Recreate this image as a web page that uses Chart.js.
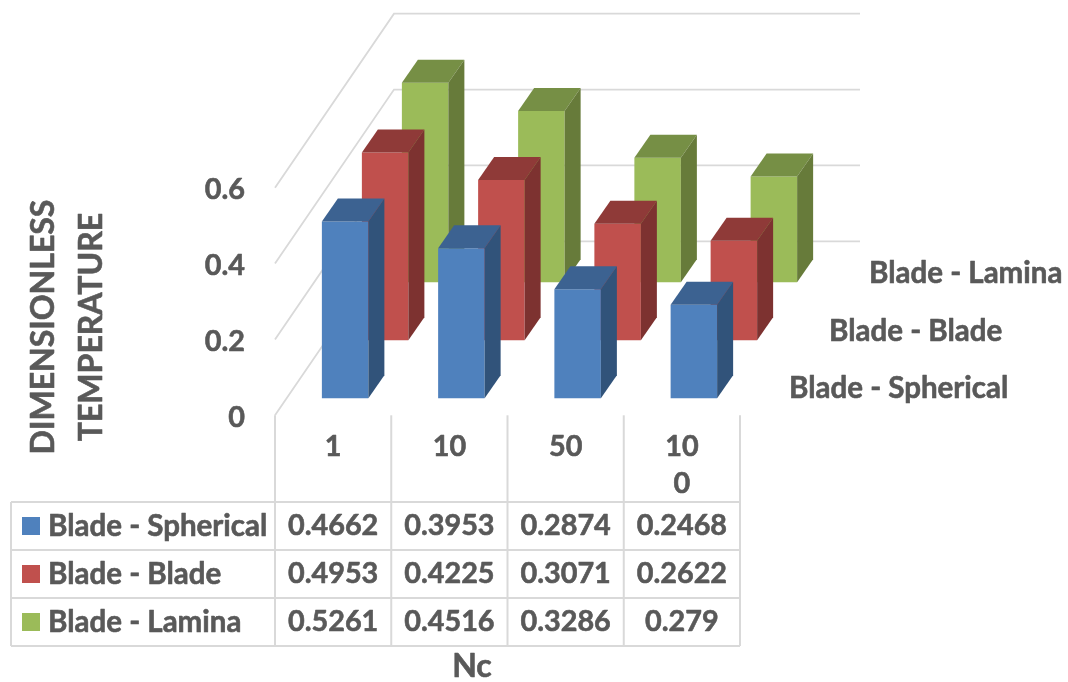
<!DOCTYPE html>
<html>
<head>
<meta charset="utf-8">
<style>
  html, body { margin: 0; padding: 0; background: #fff; }
  canvas { display: block; }
</style>
<script src="https://cdn.jsdelivr.net/npm/chart.js@4"></script>
</head>
<body>
<canvas id="chart" width="1068" height="682"></canvas>
<script>
// Dimensionless temperature by Nc for three blade pairings
const categories = ['1', '10', '50', '100'];
const seriesNames = ['Blade - Spherical', 'Blade - Blade', 'Blade - Lamina'];
const bladeSpherical = [0.4662, 0.3953, 0.2874, 0.2468];
const bladeBlade = [0.4953, 0.4225, 0.3071, 0.2622];
const bladeLamina = [0.5261, 0.4516, 0.3286, 0.279];
const yTicks = [0, 0.2, 0.4, 0.6];

const frontColors = ['#4F81BD', '#C0504D', '#9BBB59'];
const topColors = ['#3C6291', '#8F3A38', '#768F45'];
const sideColors = ['#31537A', '#7D3230', '#677B3A'];

const TEXT = '#595959';
const LINE = '#D9D9D9';
const FONT = 'Lato, Carlito, sans-serif';
const NAME_SIZE = 29.5;
const VALUE_SIZE = 28.8;
const TITLE_SIZE = 32;

// Perspective offsets: each series row sits further back on the floor
const rowShift = [{ dx: 12, dy: -17 }, { dx: 52, dy: -75 }, { dx: 92, dy: -133 }];
const barDepth = { dx: 16, dy: -23 };
const wallDepth = { dx: 119, dy: -174 };
const wallRight = 860;

const tableLeft = 11;
const tableRows = [502, 550, 598, 646];
const depthLabels = [{ x: 789, y: 388 }, { x: 829, y: 331 }, { x: 869, y: 273 }];

function poly(ctx, pts, color) {
  ctx.fillStyle = color;
  ctx.beginPath();
  pts.forEach((p, i) => (i ? ctx.lineTo(p[0], p[1]) : ctx.moveTo(p[0], p[1])));
  ctx.closePath();
  ctx.fill();
}

// Heavy label text: a thin outline thickens the bold face slightly
function text(ctx, str, x, y, align, size) {
  ctx.font = `bold ${size}px ${FONT}`;
  ctx.fillStyle = TEXT;
  ctx.strokeStyle = TEXT;
  ctx.lineWidth = 0.6;
  ctx.lineJoin = 'round';
  ctx.textAlign = align || 'left';
  ctx.textBaseline = 'middle';
  ctx.fillText(str, x, y);
  ctx.strokeText(str, x, y);
}

const prismPlugin = {
  id: 'prism',
  beforeDatasetsDraw(chart) {
    const { ctx, scales: { x, y } } = chart;
    ctx.save();
    ctx.strokeStyle = LINE;
    ctx.lineWidth = 1.8;
    yTicks.forEach(v => {
      const py = y.getPixelForValue(v);
      ctx.beginPath();
      ctx.moveTo(x.left, py);
      ctx.lineTo(x.left + wallDepth.dx, py + wallDepth.dy);
      ctx.lineTo(wallRight, py + wallDepth.dy);
      ctx.stroke();
    });
    ctx.restore();
  },
  beforeDatasetDraw(chart, args) {
    const s = rowShift[args.index];
    chart.ctx.save();
    chart.ctx.translate(s.dx, s.dy);
  },
  afterDatasetDraw(chart, args) {
    const { ctx } = chart;
    const k = args.index;
    args.meta.data.forEach(bar => {
      const l = bar.x - bar.width / 2;
      const r = bar.x + bar.width / 2;
      const t = bar.y;
      const b = bar.base;
      const { dx, dy } = barDepth;
      poly(ctx, [[l, t], [l + dx, t + dy], [r + dx, t + dy], [r, t]], topColors[k]);
      poly(ctx, [[r, t], [r + dx, t + dy], [r + dx, b + dy], [r, b]], sideColors[k]);
    });
    ctx.restore();
  },
  afterDraw(chart) {
    const { ctx, scales: { x, y } } = chart;
    const table = [bladeSpherical, bladeBlade, bladeLamina];
    const step = x.getPixelForValue(1) - x.getPixelForValue(0);
    const edges = categories.map((_, i) => x.getPixelForValue(i) - step / 2);
    edges.push(x.right);
    const zero = y.getPixelForValue(0);
    const top = tableRows[0];
    const bottom = tableRows[tableRows.length - 1];

    ctx.save();
    ctx.strokeStyle = LINE;
    ctx.lineWidth = 2;
    edges.forEach(px => {
      ctx.beginPath();
      ctx.moveTo(px, zero);
      ctx.lineTo(px, bottom);
      ctx.stroke();
    });
    ctx.beginPath();
    ctx.moveTo(tableLeft, top);
    ctx.lineTo(tableLeft, bottom);
    ctx.stroke();
    tableRows.forEach(py => {
      ctx.beginPath();
      ctx.moveTo(tableLeft, py);
      ctx.lineTo(x.right, py);
      ctx.stroke();
    });

    // value axis labels, set slightly below each tick's height on the wall
    y.ticks.forEach(tick => {
      text(ctx, String(tick.value), 245, y.getPixelForValue(tick.value) + 2.5, 'right', VALUE_SIZE);
    });

    // category axis labels; the narrow column breaks the longest one in two
    categories.forEach((label, i) => {
      const lines = label.length > 2 ? [label.slice(0, 2), label.slice(2)] : [label];
      lines.forEach((line, n) => {
        text(ctx, line, x.getPixelForValue(i), 447 + n * 37, 'center', VALUE_SIZE);
      });
    });

    seriesNames.forEach((name, k) => {
      const mid = (tableRows[k] + tableRows[k + 1]) / 2;
      ctx.fillStyle = frontColors[k];
      ctx.fillRect(22, mid - 9, 18, 18);
      text(ctx, name, 48, mid, 'left', NAME_SIZE);
      table[k].forEach((v, i) => text(ctx, String(v), x.getPixelForValue(i), mid, 'center', VALUE_SIZE));
      text(ctx, name, depthLabels[k].x, depthLabels[k].y, 'left', NAME_SIZE);
    });

    text(ctx, 'Nc', 472, 667, 'center', TITLE_SIZE);

    ctx.translate(0, 327);
    ctx.rotate(-Math.PI / 2);
    text(ctx, 'DIMENSIONLESS', 0, 44, 'center', TITLE_SIZE);
    text(ctx, 'TEMPERATURE', 0, 92, 'center', TITLE_SIZE);
    ctx.restore();
  }
};

function seriesDataset(name, values) {
  return {
    label: name,
    data: values,
    backgroundColor: frontColors[seriesNames.indexOf(name)],
    borderWidth: 0,
    clip: false,
    grouped: false,
    categoryPercentage: 1,
    barPercentage: 0.4
  };
}

new Chart(document.getElementById('chart'), {
  type: 'bar',
  data: {
    labels: categories,
    datasets: [
      seriesDataset(seriesNames[0], bladeSpherical),
      seriesDataset(seriesNames[1], bladeBlade),
      seriesDataset(seriesNames[2], bladeLamina)
    ]
  },
  options: {
    responsive: false,
    animation: false,
    layout: { padding: { top: 187.7, right: 328, left: 0, bottom: 0 } },
    plugins: { legend: { display: false }, title: { display: false }, tooltip: { enabled: false } },
    scales: {
      x: {
        grid: { display: false, drawTicks: false },
        border: { display: false },
        ticks: { display: false, autoSkip: false, maxRotation: 0 },
        afterFit(scale) {
          scale.height = 266.7;
          scale.paddingLeft = 0;
          scale.paddingRight = 0;
        }
      },
      y: {
        min: 0,
        max: 0.6,
        grid: { display: false, drawTicks: false },
        border: { display: false },
        ticks: { display: false },
        afterFit(scale) {
          scale.width = 275;
          scale.paddingTop = 0;
          scale.paddingBottom = 0;
        },
        afterBuildTicks(scale) {
          scale.ticks = yTicks.map(value => ({ value }));
        }
      }
    }
  },
  plugins: [prismPlugin]
});
</script>
</body>
</html>
